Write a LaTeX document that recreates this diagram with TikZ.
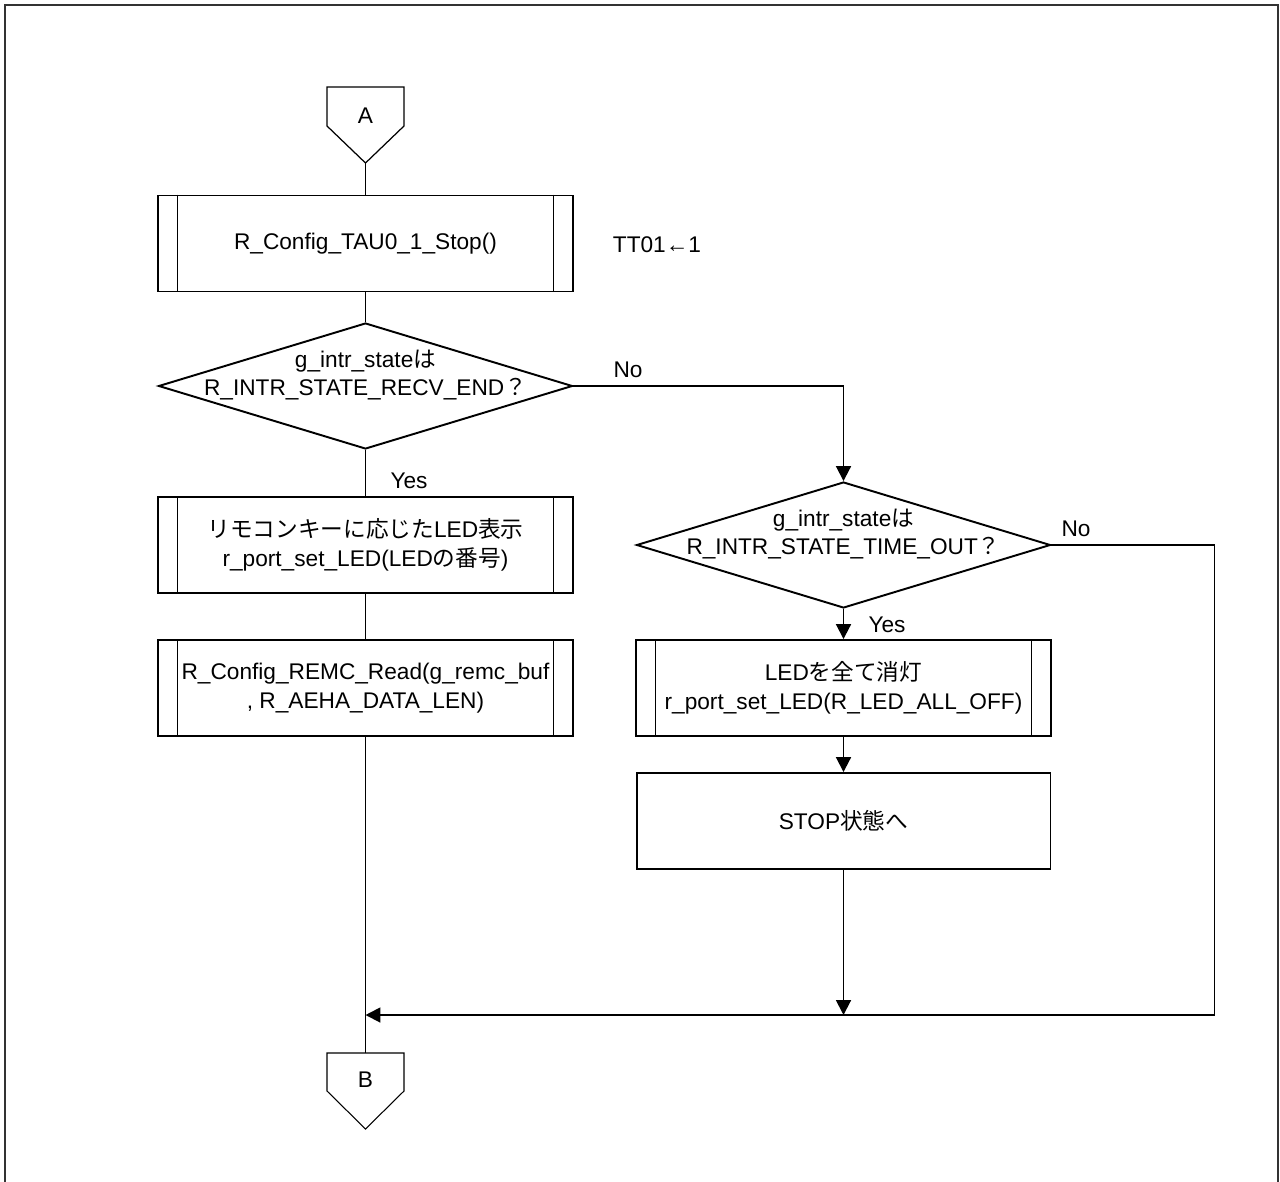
\documentclass[tikz,border=0pt]{standalone}
\usepackage{fontspec}
\setmainfont{Liberation Sans}
\newfontfamily\jp{Noto Sans CJK JP}
\usetikzlibrary{shapes.geometric,arrows.meta}

\begin{document}
\begin{tikzpicture}[x=0.02cm,y=-0.02cm,line width=1.1pt,
  font=\fontsize{12.9pt}{16.2pt}\selectfont,
  sub/.style={draw,minimum width=8.3cm,minimum height=1.92cm,inner sep=0pt,align=center},
  proc/.style={draw,minimum width=8.28cm,minimum height=1.92cm,inner sep=0pt,align=center},
  dec/.style={draw,diamond,minimum width=8.28cm,minimum height=2.52cm,inner sep=0pt},
  arr/.style={-{Triangle[length=8.5pt,width=8.5pt]}}]
\useasboundingbox (0,0) rectangle (1280,1182);
\draw[line width=1.2pt,black!80] (5,5) rectangle (1278,1200); % Frame

% Boxes
\node[sub] (cfg) at (365.5,243.5) {R\_Config\_TAU0\_1\_Stop()};
\node[dec] (d1) at (365.5,386) {};
\node[sub] (led) at (365.5,545) {{\jp リモコンキーに応じた}LED{\jp 表示}\\r\_port\_set\_LED(LED{\jp の番号})};
\node[sub] (rd) at (365.5,688) {R\_Config\_REMC\_Read(g\_remc\_buf\\, R\_AEHA\_DATA\_LEN)};
\node[dec] (d2) at (843.5,545) {};
\node[sub] (off) at (843.5,688) {LED{\jp を全て消灯}\\r\_port\_set\_LED(R\_LED\_ALL\_OFF)};
\node[proc] (stop) at (843.5,821) {STOP{\jp 状態へ}};
\foreach \n in {cfg,led,rd,off} {
  \draw[line width=0.6pt] ([xshift=0.4cm]\n.north west) -- ([xshift=0.4cm]\n.south west);
  \draw[line width=0.6pt] ([xshift=-0.4cm]\n.north east) -- ([xshift=-0.4cm]\n.south east);
}

% Connectors A and B
\draw[line width=0.7pt] (327,87) -- (404,87) -- (404,126) -- (365.5,163) -- (327,126) -- cycle;
\node (conA) at (365.5,116) {A};
\coordinate (Atip) at (365.5,163);
\draw[line width=0.6pt] (327,1053) -- (404,1053) -- (404,1091) -- (365.5,1129) -- (327,1091) -- cycle;
\node (conB) at (365.5,1080) {B};
\coordinate (Btop) at (365.5,1053);

% Writing
\node[align=center] (t1) at (365.5,375) {g\_intr\_state{\jp は}\\R\_INTR\_STATE\_RECV\_END{\jp ？}};
\node[align=center] (t2) at (843.5,534) {g\_intr\_state{\jp は}\\R\_INTR\_STATE\_TIME\_OUT{\jp ？}};
\node (tt) at (657,245) {TT01←1};
\node (no1) at (628,370) {No};
\node (yes1) at (409,481) {Yes};
\node (no2) at (1076,529) {No};
\node (yes2) at (887,625) {Yes};

% Lines
\coordinate (cL) at (365.5,1015);
\coordinate (cM) at (843.5,1015);
\coordinate (cR) at (1214.5,1015);
\draw (Atip) -- (cfg.north);
\draw (cfg) -- (d1);
\draw (d1) -- (led);
\draw (led) -- (rd);
\draw (rd.south) -- (Btop);
\draw[arr] (d1.east) -| (d2.north);
\draw[arr] (d2) -- (off);
\draw[arr] (off) -- (stop);
\draw[arr] (stop.south) -- (cM);
\draw[arr] (d2.east) -| (cR) -- (cL);
\end{tikzpicture}
\end{document}
